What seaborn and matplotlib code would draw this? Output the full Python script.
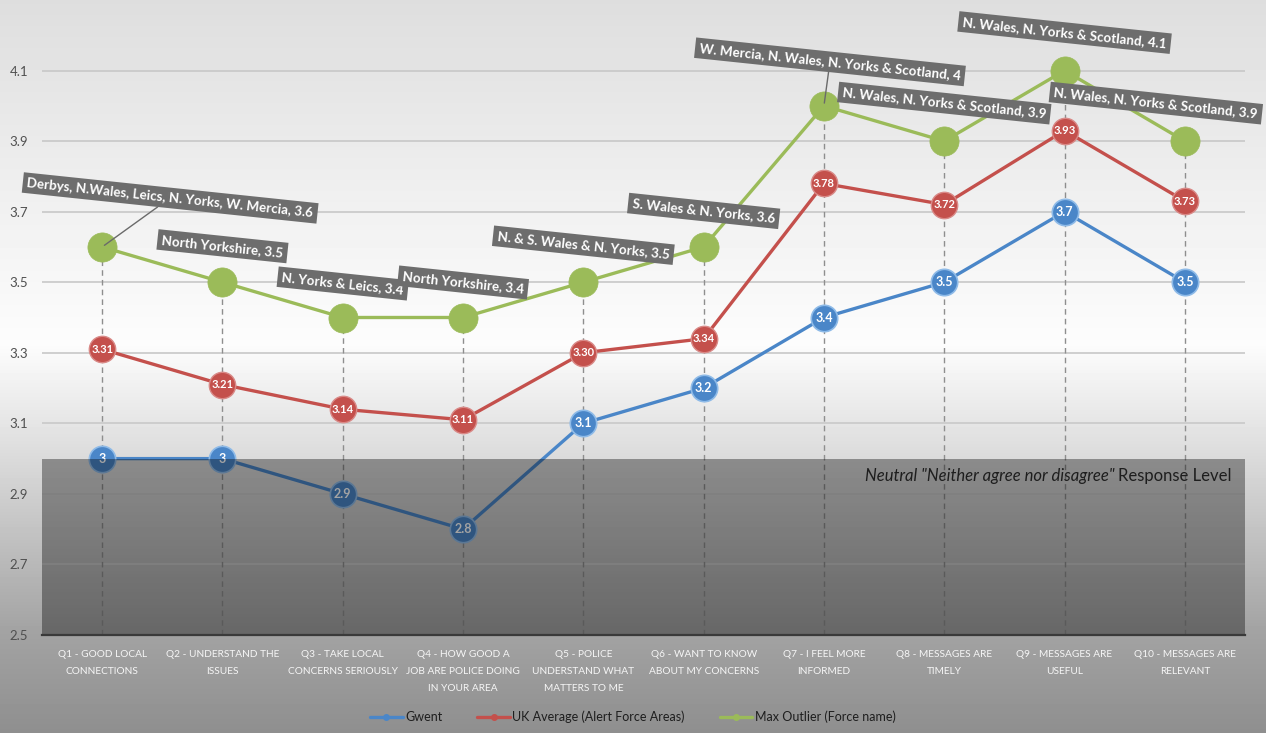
import numpy as np
import pandas as pd
import matplotlib
matplotlib.use("Agg")
import matplotlib.pyplot as plt
import seaborn as sns
from matplotlib.lines import Line2D

# ---- data ----
questions = [
    "Q1 - Good Local\nConnections",
    "Q2 - Understand The\nIssues",
    "Q3 - Take Local\nConcerns Seriously",
    "Q4 - How Good A\nJob Are Police Doing\nIn Your Area",
    "Q5 - Police\nUnderstand What\nMatters To Me",
    "Q6 - Want To Know\nAbout My Concerns",
    "Q7 - I Feel More\nInformed",
    "Q8 - Messages Are\nTIMELY",
    "Q9 - Messages Are\nUSEFUL",
    "Q10 - Messages Are\nRELEVANT",
]
gwent = [3.0, 3.0, 2.9, 2.8, 3.1, 3.2, 3.4, 3.5, 3.7, 3.5]
uk_average = [3.31, 3.21, 3.14, 3.11, 3.30, 3.34, 3.78, 3.72, 3.93, 3.73]
max_outlier = [3.6, 3.5, 3.4, 3.4, 3.5, 3.6, 4.0, 3.9, 4.1, 3.9]
outlier_forces = [
    "Derbys, N.Wales, Leics, N. Yorks, W. Mercia",
    "North Yorkshire",
    "N. Yorks & Leics",
    "North Yorkshire",
    "N. & S. Wales & N. Yorks",
    "S. Wales & N. Yorks",
    "W. Mercia, N. Wales, N. Yorks & Scotland",
    "N. Wales, N. Yorks & Scotland",
    "N. Wales, N. Yorks & Scotland",
    "N. Wales, N. Yorks & Scotland",
]
series_names = ["Gwent", "UK Average (Alert Force Areas)", "Max Outlier (Force name)"]
y_ticks = [2.5, 2.7, 2.9, 3.1, 3.3, 3.5, 3.7, 3.9, 4.1]
neutral_level = 3.0
neutral_text = ('Neutral "Neither agree nor disagree"', "Response Level")

# label box offsets in pixels from the outlier point, and which get a leader line
label_offsets = [(68, 49), (0, 36), (0, 34), (0, 35), (0, 37), (0, 36),
                 (6, 44), (0, 38), (0, 38), (-29, 38)]
leader = [True, False, False, False, False, False, True, False, False, False]

colors = {"Gwent": "#4a86c8",
          "UK Average (Alert Force Areas)": "#c4504c",
          "Max Outlier (Force name)": "#9bbb59"}

pos = np.arange(len(questions))
df = pd.DataFrame({
    "pos": np.tile(pos, 3),
    "score": gwent + uk_average + max_outlier,
    "series": np.repeat(series_names, len(questions)),
})

sns.set_theme(style="white")
plt.rcParams["font.family"] = ["Lato", "DejaVu Sans"]

fig = plt.figure(figsize=(12.66, 7.33), dpi=100)

# background gradient of the chart area
bg = fig.add_axes([0, 0, 1, 1])
bg.set_zorder(-1)
rows = np.linspace(0, 1, 733)
shade = np.interp(rows, [0, 0.27, 0.47, 0.6, 0.86, 1.0],
                  [0.87, 0.94, 0.99, 0.88, 0.64, 0.56])
bg.imshow(np.tile(shade[:, None], (1, 10)), aspect="auto", cmap="gray",
          vmin=0, vmax=1, extent=[0, 1, 0, 1])
bg.axis("off")

ax = fig.add_axes([42 / 1266, 1 - 635 / 733, (1245 - 42) / 1266, 635 / 733])
ax.set_facecolor("none")

# dashed drop lines from the max outlier
ax.vlines(pos, 2.5, max_outlier, colors="#8e8e8e", linestyles=(0, (4, 3)),
          lw=1, zorder=2)

styles = {
    "Gwent": dict(markersize=19, markeredgecolor="#8fbbe8", markeredgewidth=1.2),
    "UK Average (Alert Force Areas)": dict(markersize=19, markeredgecolor="#d98a88",
                                           markeredgewidth=1.0),
    "Max Outlier (Force name)": dict(markersize=21, markeredgecolor="#9bbb59",
                                     markeredgewidth=0.5),
}
for name in series_names:
    sub = df[df["series"] == name]
    sns.lineplot(data=sub, x="pos", y="score", color=colors[name], marker="o",
                 linewidth=2.4, legend=False, ax=ax, zorder=3, **styles[name])

# values inside the markers
for i in pos:
    ax.text(i, gwent[i], f"{gwent[i]:g}", ha="center", va="center",
            color="white", fontsize=9, fontweight="bold", zorder=4)
    ax.text(i, uk_average[i], f"{uk_average[i]:.2f}", ha="center", va="center",
            color="white", fontsize=8, fontweight="bold", zorder=4)

# outlier force labels
for i in pos:
    arrow = dict(arrowstyle="-", color="#6a6a6a", lw=1, shrinkA=0, shrinkB=2) if leader[i] else None
    ax.annotate(f"{outlier_forces[i]}, {max_outlier[i]:g}", xy=(i, max_outlier[i]),
                xytext=label_offsets[i], textcoords="offset pixels",
                ha="center", va="center", rotation=-6, rotation_mode="anchor",
                color="white", fontsize=9.6, fontweight="bold", zorder=8,
                bbox=dict(boxstyle="square,pad=0.32", fc="#6d6d6d", ec="none"),
                arrowprops=arrow)

# neutral response band (overlay)
ax.axhspan(2.5, neutral_level, color="black", alpha=0.36, lw=0, zorder=5)
t2 = ax.text(9.39, 2.937, neutral_text[1], ha="right", va="baseline",
             color="#1e1e1e", fontsize=12, zorder=6)
fig.canvas.draw()
w = t2.get_window_extent().width
ax.annotate(neutral_text[0], xy=(9.39, 2.937), xytext=(-w - 4, 0),
            textcoords="offset pixels", ha="right", va="baseline",
            color="#1e1e1e", fontsize=12, style="italic", zorder=6)

# axes styling
ax.set_xlim(-0.5, len(questions) - 0.5)
ax.set_ylim(2.5, 4.3)
ax.set_yticks(y_ticks)
ax.set_yticklabels([f"{v:.1f}" for v in y_ticks], color="#505050", fontsize=9.5)
ax.set_xticks(pos)
ax.set_xticklabels([q.upper() for q in questions], color="#f6f6f6", fontsize=7.3,
                   va="top")
for lbl in ax.get_xticklabels():
    lbl.set_linespacing(2.1)
ax.set_xticks(np.arange(-0.5, len(questions)), minor=True)
ax.tick_params(axis="x", which="major", length=0, pad=11)
ax.tick_params(axis="x", which="minor", length=4, width=1.2, color="#3a3a3a", direction="out")
ax.tick_params(axis="y", length=0, pad=10)
ax.yaxis.grid(True, color="#c8c8c8", lw=1.2)
ax.set_axisbelow(True)
for s in ["top", "left", "right"]:
    ax.spines[s].set_visible(False)
ax.spines["bottom"].set_color("#3a3a3a")
ax.spines["bottom"].set_linewidth(1.6)
ax.spines["bottom"].set_zorder(7)
ax.set_xlabel("")
ax.set_ylabel("")

handles = [Line2D([0], [0], color=colors[n], lw=2.4, marker="o", markersize=4)
           for n in series_names]
fig.legend(handles, series_names, loc="center", bbox_to_anchor=(0.5, 1 - 717 / 733),
           ncol=3, frameon=False, fontsize=9, handlelength=2.6, columnspacing=2.8,
           handletextpad=0.2, labelcolor="#1e1e1e")

fig.savefig("out.png", dpi=100)
